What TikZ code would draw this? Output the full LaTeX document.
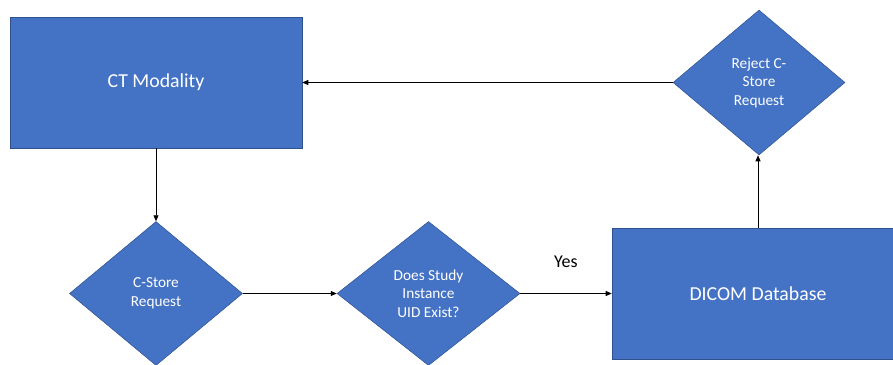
\documentclass[tikz,border=0pt]{standalone}
\usepackage{fontspec}
\setmainfont{Carlito}
\usetikzlibrary{shapes.geometric,arrows.meta}
\definecolor{boxfill}{HTML}{4472C4}
\definecolor{boxedge}{HTML}{2F528F}
\tikzset{
  procbox/.style={rectangle, draw=boxedge, line width=0.6pt, fill=boxfill, text=white,
    minimum width=292pt, minimum height=131pt, inner sep=0pt, font=\fontsize{19.8}{23}\selectfont},
  decision/.style={diamond, draw=boxedge, line width=0.5pt, fill=boxfill, text=white, align=center,
    inner sep=0pt, font=\fontsize{15.3}{18.5}\selectfont},
  conn/.style={draw=black, line width=0.75pt, -{Triangle[length=6pt,width=5pt]}}
}
\begin{document}
\begin{tikzpicture}[x=1pt,y=-1pt]
\useasboundingbox (0,0) rectangle (893,364);
\clip (0,0) rectangle (893,364);
\node[procbox] (ct) at (156,82.5) {CT Modality};
\node[procbox] (db) at (758,293.5) {DICOM Database};
\node[decision, minimum width=173pt, minimum height=144pt] (cs) at (156,293.5) {C-Store\\Request};
\node[decision, minimum width=183pt, minimum height=144pt] (uid) at (428.5,293.5) {Does Study\\Instance\\UID Exist?};
\node[decision, minimum width=172pt, minimum height=145pt] (rej) at (759,82.5) {Reject C-\\Store\\Request};
\draw[conn] (ct.south) -- (cs.north);
\draw[conn] (cs.east) -- (uid.west);
\draw[conn] (uid.east) -- node[above=22pt, font=\fontsize{18}{22}\selectfont, text=black] (yes) {Yes} (db.west);
\draw[conn] (db.north) -- (db.north |- rej.south);
\draw[conn] (rej.west) -- (ct.east);
\end{tikzpicture}
\end{document}
